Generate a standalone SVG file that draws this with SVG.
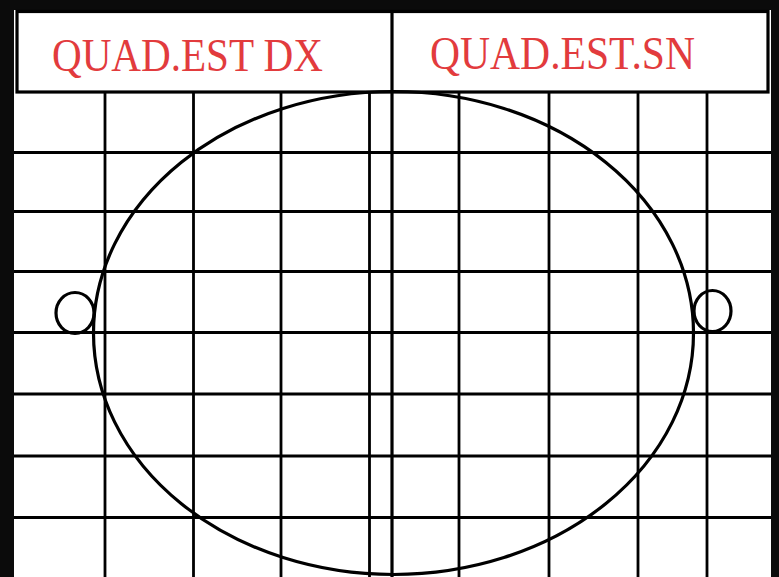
<svg xmlns="http://www.w3.org/2000/svg" width="779" height="577" viewBox="0 0 779 577">
<style>
.g{stroke:#000;stroke-width:2.8;fill:none}
.b{stroke:#000;stroke-width:3.2;fill:none}
.t{font-family:"Liberation Serif","Times New Roman",serif;font-size:47px;fill:#e23b3d}
</style>
<rect width="779" height="577" fill="#0b0b0b"/>
<rect x="14" y="10" width="757" height="567" fill="#ffffff"/>
<g id="grid">
<path class="g" d="M105 92V577M193.5 92V577M281 92V577M369.5 92V577M459 92V577M549 92V577M638 92V577M707 92V577"/>
<path class="g" d="M14 152.5H771M14 211.5H771M14 271.5H771M14 332.5H771M14 394H771M14 456H771M14 517.5H771"/>
</g>
<g id="header">
<rect class="b" x="17" y="11.5" width="751" height="80.5" fill="#fff"/>
<text class="t" x="52" y="71" textLength="271" lengthAdjust="spacingAndGlyphs">QUAD.EST DX</text>
<text class="t" x="430" y="69" textLength="265" lengthAdjust="spacingAndGlyphs">QUAD.EST.SN</text>
</g>
<g id="divider">
<path class="b" d="M392 11V577" stroke-width="3.6"/>
</g>
<g id="ellipse">
<ellipse class="b" cx="393.5" cy="333" rx="300" ry="241.5"/>
</g>
<g id="circle-left">
<ellipse class="b" cx="75" cy="313" rx="19" ry="20.5"/>
</g>
<g id="circle-right">
<ellipse class="b" cx="712.5" cy="311" rx="18.5" ry="20.5"/>
</g>
</svg>
